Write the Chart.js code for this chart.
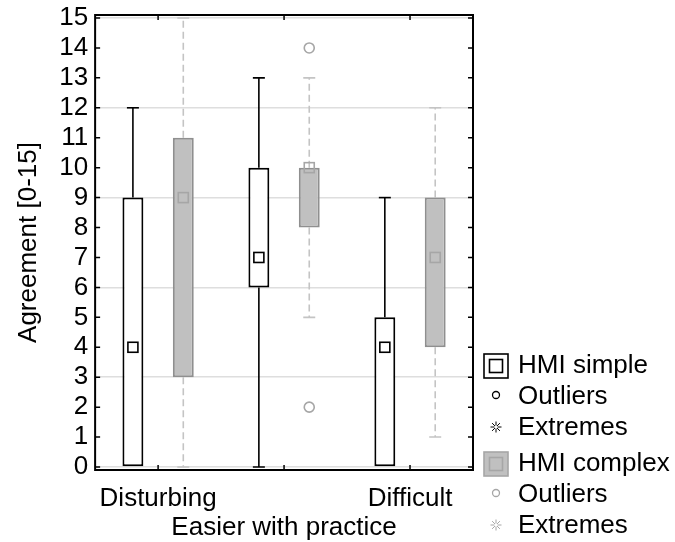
<!DOCTYPE html>
<html>
<head>
<meta charset="utf-8">
<title>Agreement box plot</title>
<script src="https://cdn.jsdelivr.net/npm/chart.js@4.4.1/dist/chart.umd.min.js"></script>
<style>
  html, body { margin: 0; padding: 0; background: #fff; }
  .chart-wrap { position: relative; width: 675px; height: 542px; }
</style>
</head>
<body>
<div class="chart-wrap"><canvas id="boxChart"></canvas></div>
<script>
// categories (middle label drops to a second line, like the original)
const categories = [['Disturbing'], ['', 'Easier with practice'], ['Difficult']];
const yTicks = [0, 1, 2, 3, 4, 5, 6, 7, 8, 9, 10, 11, 12, 13, 14, 15];
const seriesNames = ['HMI simple', 'HMI complex'];
const markerNames = ['Outliers', 'Extremes'];

// HMI simple
const simpleBox = [[0, 9], [6, 10], [0, 5]];
const simpleMedian = [4, 7, 4];
const simpleWhisker = [[0, 12], [0, 13], [0, 9]];
const simpleOutliers = [[], [], []];

// HMI complex
const complexBox = [[3, 11], [8, 10], [4, 9]];
const complexMedian = [9, 10, 7];
const complexWhisker = [[0, 15], [5, 13], [1, 12]];
const complexOutliers = [[], [14, 2], []];

const FONT = "'Liberation Sans', Arial, sans-serif";
const FONT_SIZE = 26;

const styles = [
  { fill: '#ffffff', border: '#000000', whisker: '#000000', dash: [], median: '#000000', medianFill: '#ffffff', outlier: '#000000', inner: '#000000' },
  { fill: '#c0c0c0', border: '#8f8f8f', whisker: '#c4c4c4', dash: [7, 4], median: '#a6a6a6', medianFill: null, outlier: '#a6a6a6', inner: '#a6a6a6' }
];

function drawAsterisk(ctx, x, y, r) {
  ctx.beginPath();
  for (let k = 0; k < 4; k++) {
    const a = k * Math.PI / 4;
    const dx = Math.cos(a), dy = Math.sin(a);
    ctx.moveTo(x + dx * 1.5, y + dy * 1.5); ctx.lineTo(x + dx * r, y + dy * r);
    ctx.moveTo(x - dx * 1.5, y - dy * 1.5); ctx.lineTo(x - dx * r, y - dy * r);
  }
  ctx.stroke();
}

// whiskers, medians, outliers on top of the floating bars
const boxPlotExtras = {
  id: 'boxPlotExtras',
  beforeDatasetsDraw(chart) {
    const {ctx, scales: {y}} = chart;
    chart.data.datasets.forEach((ds, di) => {
      const st = styles[di];
      chart.getDatasetMeta(di).data.forEach((bar, i) => {
        const [q1, q3] = ds.data[i];
        const [lo, hi] = ds.whiskers[i];
        ctx.save();
        ctx.strokeStyle = st.whisker;
        ctx.lineWidth = 1.6;
        ctx.setLineDash(st.dash);
        ctx.beginPath();
        if (hi > q3) { ctx.moveTo(bar.x, y.getPixelForValue(q3)); ctx.lineTo(bar.x, y.getPixelForValue(hi)); }
        if (lo < q1) { ctx.moveTo(bar.x, y.getPixelForValue(q1)); ctx.lineTo(bar.x, y.getPixelForValue(lo)); }
        ctx.stroke();
        ctx.setLineDash([]);
        ctx.beginPath();
        [lo, hi].forEach(v => {
          if (v === q1 || v === q3) return;
          const py = y.getPixelForValue(v);
          ctx.moveTo(bar.x - 6, py); ctx.lineTo(bar.x + 6, py);
        });
        ctx.stroke();
        ctx.restore();
      });
    });
  },
  afterDatasetsDraw(chart) {
    const {ctx, scales: {y}} = chart;
    chart.data.datasets.forEach((ds, di) => {
      const st = styles[di];
      chart.getDatasetMeta(di).data.forEach((bar, i) => {
        const py = y.getPixelForValue(ds.medians[i]);
        ctx.save();
        ctx.lineWidth = 1.6;
        ctx.strokeStyle = st.median;
        if (st.medianFill) { ctx.fillStyle = st.medianFill; ctx.fillRect(bar.x - 5, py - 5, 10, 10); }
        ctx.strokeRect(bar.x - 5, py - 5, 10, 10);
        ctx.strokeStyle = st.outlier;
        ds.outliers[i].forEach(v => {
          ctx.beginPath();
          ctx.arc(bar.x, y.getPixelForValue(v), 5, 0, Math.PI * 2);
          ctx.stroke();
        });
        ctx.restore();
      });
    });
  }
};

// black frame with inward ticks, and the legend on the right
const plotFrame = {
  id: 'plotFrame',
  afterDraw(chart) {
    const {ctx, chartArea: {left, right, top, bottom}, scales: {x, y}} = chart;
    ctx.save();
    ctx.strokeStyle = '#000';
    ctx.lineWidth = 2;
    ctx.strokeRect(left, top, right - left, bottom - top);
    ctx.lineWidth = 1.5;
    ctx.beginPath();
    y.ticks.forEach(t => {
      const py = y.getPixelForValue(t.value);
      ctx.moveTo(left, py); ctx.lineTo(left + 5, py);
      ctx.moveTo(right, py); ctx.lineTo(right - 5, py);
    });
    categories.forEach((c, i) => {
      const px = x.getPixelForValue(i);
      ctx.moveTo(px, top); ctx.lineTo(px, top + 5);
      ctx.moveTo(px, bottom); ctx.lineTo(px, bottom - 5);
    });
    ctx.stroke();

    // legend
    const iconX = right + 23;
    const textX = right + 45;
    let rowY = chart.height - 176;
    ctx.font = FONT_SIZE + 'px ' + FONT;
    ctx.textBaseline = 'middle';
    ctx.fillStyle = '#000';
    seriesNames.forEach((name, si) => {
      const st = styles[si];
      if (si > 0) rowY += 5;
      ctx.lineWidth = 1.6;
      ctx.fillStyle = st.fill;
      ctx.fillRect(iconX - 12, rowY - 12, 24, 24);
      ctx.strokeStyle = si === 0 ? '#000' : '#a6a6a6';
      ctx.strokeRect(iconX - 12, rowY - 12, 24, 24);
      ctx.strokeStyle = st.inner;
      ctx.strokeRect(iconX - 6.5, rowY - 6.5, 13, 13);
      ctx.fillStyle = '#000';
      ctx.fillText(name, textX, rowY);
      rowY += 31;
      ctx.lineWidth = 1.3;
      ctx.strokeStyle = st.outlier;
      ctx.beginPath();
      ctx.arc(iconX, rowY - 2, 3.5, 0, Math.PI * 2);
      ctx.stroke();
      ctx.fillText(markerNames[0], textX, rowY);
      rowY += 31;
      ctx.lineWidth = 1;
      drawAsterisk(ctx, iconX, rowY - 1, 5.5);
      ctx.fillText(markerNames[1], textX, rowY);
      rowY += 31;
    });
    ctx.restore();
  }
};

const ctx = document.getElementById('boxChart');
const boxChart = new Chart(ctx, {
  type: 'bar',
  data: {
    labels: categories,
    datasets: [{
      label: seriesNames[0],
      data: simpleBox,
      medians: simpleMedian,
      whiskers: simpleWhisker,
      outliers: simpleOutliers,
      backgroundColor: styles[0].fill,
      borderColor: styles[0].border,
      borderWidth: 2,
      borderSkipped: false,
      categoryPercentage: 0.8,
      barPercentage: 0.415,
    }, {
      label: seriesNames[1],
      data: complexBox,
      medians: complexMedian,
      whiskers: complexWhisker,
      outliers: complexOutliers,
      backgroundColor: styles[1].fill,
      borderColor: styles[1].border,
      borderWidth: 2,
      borderSkipped: false,
      categoryPercentage: 0.8,
      barPercentage: 0.415,
    }]
  },
  options: {
    responsive: true,
    maintainAspectRatio: false,
    animation: false,
    layout: {
      padding: { top: 15, right: 202, bottom: 0, left: 10 }
    },
    scales: {
      x: {
        afterFit: s => { s.height = 72; },
        grid: { display: false, drawTicks: false },
        border: { display: false },
        ticks: {
          autoSkip: false,
          maxRotation: 0,
          padding: 14,
          color: '#000',
          font: { family: FONT, size: FONT_SIZE, lineHeight: 1.12 }
        }
      },
      y: {
        min: -0.1,
        max: 15.1,
        afterBuildTicks: axis => { axis.ticks = yTicks.map(v => ({ value: v })); },
        afterFit: s => { s.paddingTop = 0; s.paddingBottom = 0; },
        grid: {
          drawTicks: false,
          lineWidth: 1.5,
          color: c => (c.tick && c.tick.value % 3 === 0) ? '#dedede' : 'rgba(0,0,0,0)'
        },
        border: { display: false },
        ticks: {
          autoSkip: false,
          padding: 7,
          color: '#000',
          font: { family: FONT, size: FONT_SIZE }
        },
        title: {
          display: true,
          text: 'Agreement [0-15]',
          color: '#000',
          padding: { top: 3, bottom: 8 },
          font: { family: FONT, size: FONT_SIZE }
        }
      }
    },
    plugins: {
      legend: { display: false },
      tooltip: { enabled: false }
    }
  },
  plugins: [boxPlotExtras, plotFrame]
});
</script>
</body>
</html>
